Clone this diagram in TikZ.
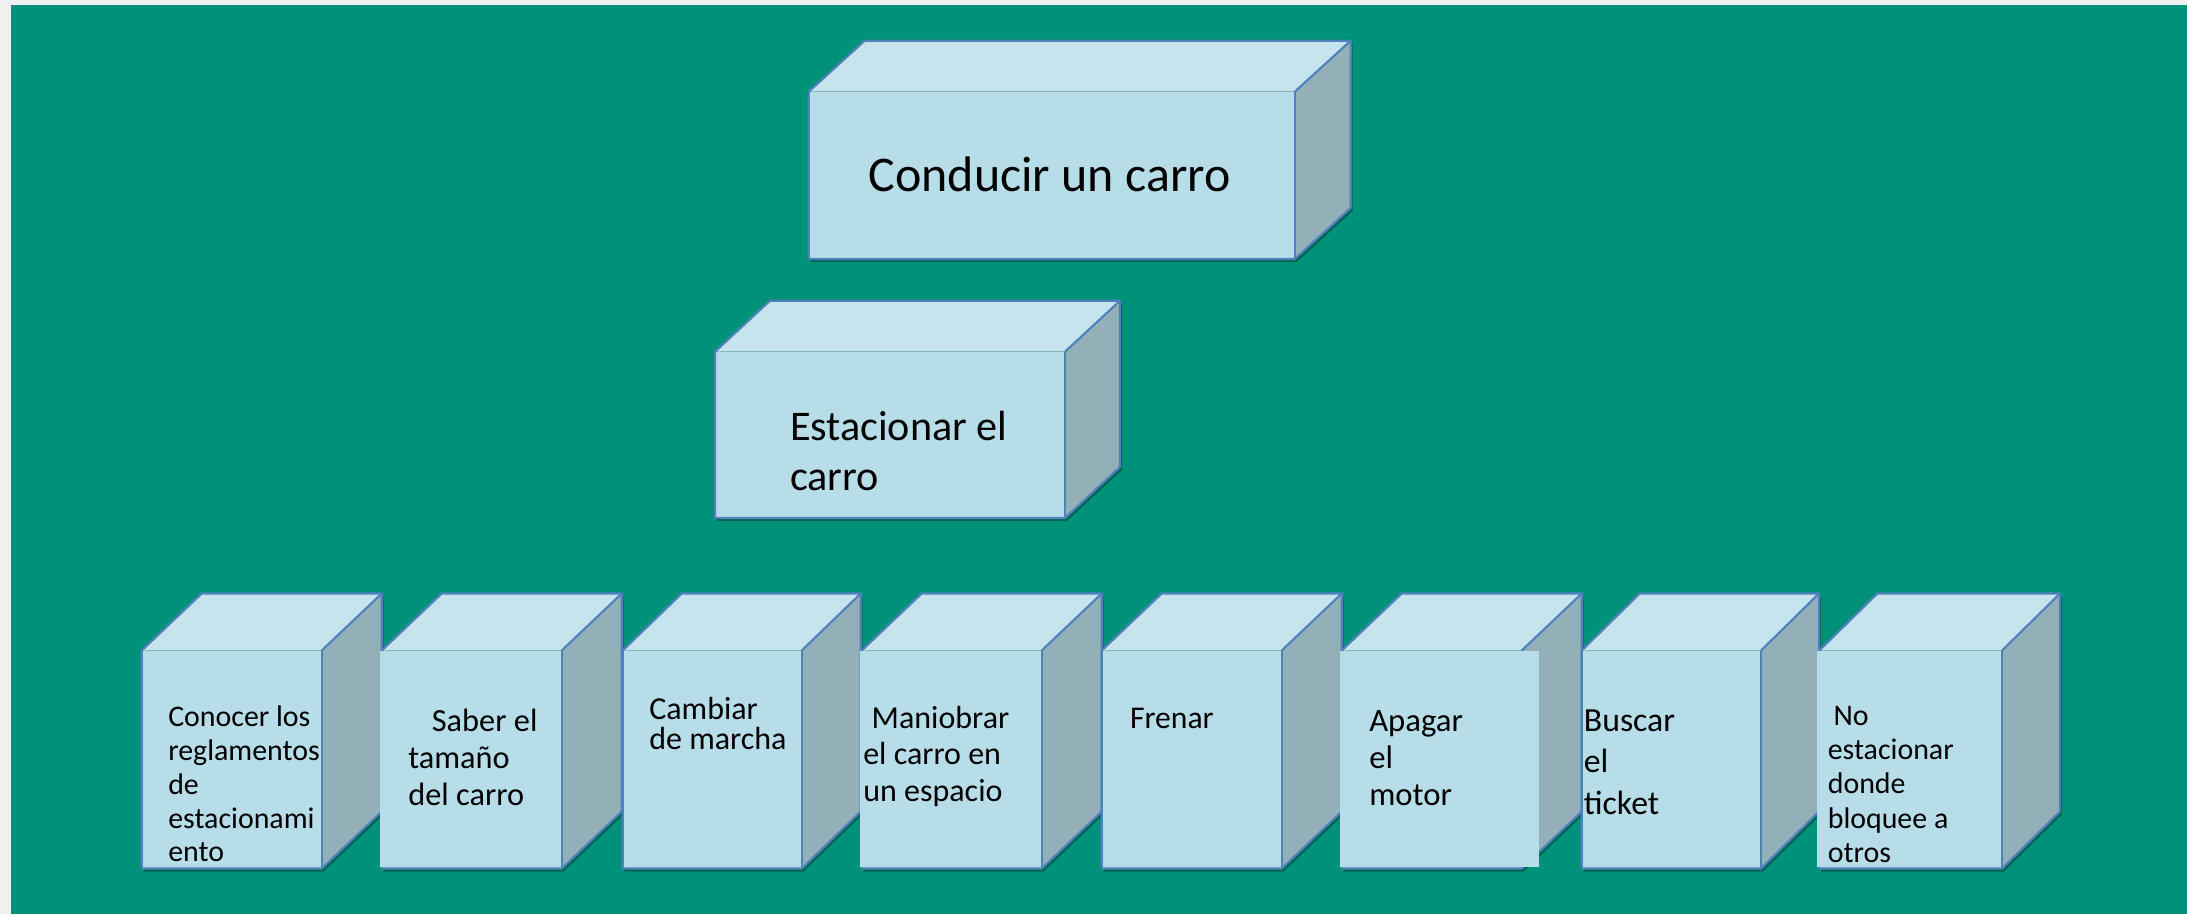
\documentclass[tikz,border=0pt]{standalone}
\usepackage{fontspec}
\setmainfont{Carlito}
\definecolor{bgteal}{RGB}{0,145,123}
\definecolor{margingray}{RGB}{240,240,240}
\definecolor{frontc}{RGB}{183,221,232}
\definecolor{topc}{RGB}{198,228,237}
\definecolor{sidec}{RGB}{147,176,184}
\definecolor{edgec}{RGB}{79,129,189}
\tikzset{
  frontface/.style={rectangle, fill=frontc, inner sep=0pt, outer sep=0pt, anchor=north west},
  edgeline/.style={draw=edgec, line width=0.6pt, line join=round},
  lbl/.style={inner sep=0pt, outer sep=0pt, align=left, text=black},
  cover/.style={fill=frontc, draw=none}
}
\newcommand\toprule{\rule{0pt}{10pt}}
% #1 name, #2 x1, #3 y1, #4 x2, #5 y2, #6 dx, #7 dy
\newcommand\mycube[7]{%
  \begin{scope}[shift={(2,3)}]
    \fill[black, opacity=0.3] (#2,#5) -- (#2,#3) -- ({#2+#6},{#3-#7}) -- ({#4+#6},{#3-#7}) -- ({#4+#6},{#5-#7}) -- (#4,#5) -- cycle;
  \end{scope}
  \fill[topc] (#2,#3) -- ({#2+#6},{#3-#7}) -- ({#4+#6},{#3-#7}) -- (#4,#3) -- cycle;
  \fill[sidec] (#4,#3) -- ({#4+#6},{#3-#7}) -- ({#4+#6},{#5-#7}) -- (#4,#5) -- cycle;
  \node[frontface, minimum width={(#4-#2)*0.01cm}, minimum height={(#5-#3)*0.01cm}] (#1) at (#2,#3) {};
  \draw[edgeline] (#1.south west) -- (#1.north west) -- ({#2+#6},{#3-#7}) -- ({#4+#6},{#3-#7}) -- ({#4+#6},{#5-#7}) -- (#1.south east) -- cycle;
  \draw[edgeline] (#1.north east) -- (#1.south east);
  \draw[edgeline] (#1.north east) -- ({#4+#6},{#3-#7});
}
\begin{document}
\begin{tikzpicture}[x=0.01cm, y=-0.01cm]
\useasboundingbox (0,0) rectangle (2187,914);
\fill[margingray] (0,0) rectangle (2187,914);
\fill[bgteal] (11,5) rectangle (2187,914);

% top level
\mycube{c0}{808.7}{91.7}{1294.7}{259}{56}{51}
\mycube{c1}{715}{351.7}{1065}{518}{55}{51}

% bottom row
\mycube{b1}{141.7}{650.5}{321.7}{868.5}{60}{57}
\mycube{b2}{381.7}{650.5}{561.7}{868.5}{60}{57}
\mycube{b3}{622.7}{650.5}{801.7}{868.5}{59}{57}
\mycube{b4}{861.7}{650.5}{1041.7}{868.5}{60}{57}
\mycube{b5}{1101.7}{650.5}{1281.7}{868.5}{60}{57}
\mycube{b6}{1341.7}{650.5}{1521.7}{868.5}{60}{57}
\mycube{b7}{1581.7}{650.5}{1761}{868.5}{58}{57}
\mycube{b8}{1819.3}{650.5}{2002}{868.5}{58}{57}

% text boxes lying over some fronts
\fill[cover] (379.5,651) rectangle (386,867);
\fill[cover] (859.5,651) rectangle (866,867);
\fill[cover] (1339.5,650.5) rectangle (1539,867);
\fill[cover] (1817,651) rectangle (1824,867);

% texts
\node[lbl, anchor=base west, font=\fontsize{14.2pt}{17pt}\selectfont] (t0) at (868.8,191.7) {Conducir un carro};
\node[lbl, anchor=north west, font=\fontsize{12pt}{14.4pt}\selectfont] (t1) at (790,404.85) {\toprule Estacionar el\\carro};
\node[lbl, anchor=north west, font=\fontsize{8.5pt}{9.6pt}\selectfont] (t2) at (168.3,691.55) {\toprule Conocer los\\reglamentos\\de\\estacionami\\ento};
\node[lbl, anchor=north west, font=\fontsize{9.2pt}{10.5pt}\selectfont] (t3) at (408.3,696.55) {\toprule\hspace*{6.7pt}Saber el\\tama\~no\\del carro};
\node[lbl, anchor=north west, font=\fontsize{9.1pt}{8.5pt}\selectfont] (t4) at (649.3,684.15) {\toprule Cambiar\\de marcha};
\node[lbl, anchor=north west, font=\fontsize{9.1pt}{10.4pt}\selectfont] (t5) at (863.3,693.15) {\toprule\hspace*{2.4pt}Maniobrar\\el carro en\\un espacio};
\node[lbl, anchor=base west, font=\fontsize{9pt}{10.5pt}\selectfont] (t6) at (1130,728.3) {Frenar};
\node[lbl, anchor=north west, font=\fontsize{9.3pt}{10.5pt}\selectfont] (t7) at (1369.3,696.55) {\toprule Apagar\\el\\motor};
\node[lbl, anchor=north west, font=\fontsize{9.6pt}{11.7pt}\selectfont] (t8) at (1583.9,696.55) {\toprule Buscar\\el\\ticket};
\node[lbl, anchor=north west, font=\fontsize{8.5pt}{9.7pt}\selectfont] (t9) at (1827.8,690.55) {\toprule\hspace*{1.65pt}No\\estacionar\\donde\\bloquee a\\otros};
\end{tikzpicture}
\end{document}
